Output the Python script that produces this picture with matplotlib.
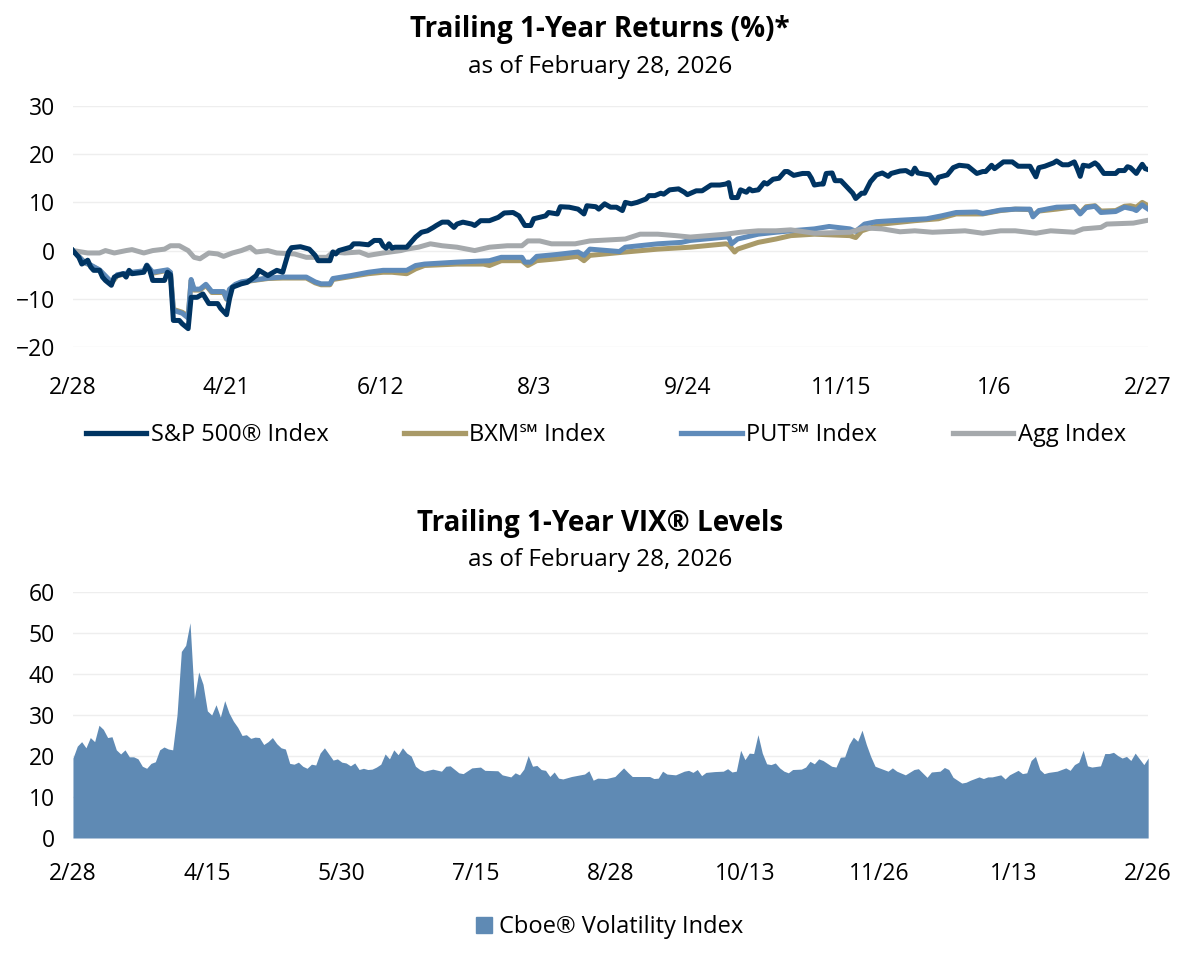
import matplotlib
matplotlib.use("Agg")
import matplotlib.pyplot as plt
import matplotlib.patches as mpatches
from matplotlib.lines import Line2D
import pandas as pd

plt.rcParams['font.family'] = ['Open Sans', 'DejaVu Sans']

# ---- trailing 1-year returns (%), (calendar days since 2/28/2025, value) ----
start = pd.Timestamp('2025-02-28')

spx = [(0, 0), (2, -1.4), (3, -2.8), (5, -2), (6, -3.4), (7, -4.1), (9, -4.1), (10, -5.5),
       (11, -6.2), (13, -7.2), (14, -5.5), (15, -5.2), (17, -4.8), (18, -5.5), (19, -4.1),
       (20, -4.8), (24, -4.5), (25, -3.1), (26, -4.1), (27, -6.2), (31, -6.2), (32, -4.5),
       (33, -5), (34, -14.5), (36, -14.5), (37, -15.2), (39, -16.2), (40, -9.7), (42, -9.7),
       (44, -9), (46, -11), (49, -11), (50, -12), (52, -13.3), (53, -10), (54, -7.6),
       (57, -6.9), (59, -6.6), (62, -5.2), (63, -4.1), (66, -5.2), (67, -4.8), (69, -4.1),
       (71, -4.5), (73, -0.3), (74, 0.6), (77, 0.8), (80, 0.3), (82, -1), (83, -2.1),
       (87, -2.1), (88, -0.3), (89, -0.7), (90, 0), (94, 0.7), (95, 1.4), (97, 1.4),
       (100, 1.2), (102, 2.1), (104, 2.1), (105, 1), (106, 0.5), (107, 1.4), (108, 0.5),
       (109, 0.7), (113, 0.7), (116, 2.8), (118, 3.8), (120, 4.1), (122, 4.8), (123, 5.2),
       (125, 5.9), (127, 5.9), (129, 4.8), (130, 5.5), (132, 5.9), (135, 5.5), (136, 5.2),
       (138, 6.2), (141, 6.2), (144, 6.9), (146, 7.8), (149, 7.9), (151, 7.2), (153, 5.2),
       (155, 5.2), (156, 6.6), (160, 7.2), (161, 7.9), (164, 7.6), (165, 9.1), (168, 9),
       (171, 8.6), (173, 7.6), (174, 9.3), (177, 9.1), (178, 8.6), (180, 9.7), (182, 9),
       (184, 9), (186, 8.3), (187, 10), (189, 9.7), (191, 10), (194, 10.7), (195, 11.4),
       (197, 11.4), (199, 11.9), (200, 11.7), (202, 12.6), (205, 12.8), (207, 12.1),
       (208, 11.6), (211, 12.4), (213, 12.4), (215, 13.2), (216, 13.6), (219, 13.6),
       (221, 13.8), (222, 14.1), (223, 11), (225, 11), (226, 12.6), (228, 12.1), (229, 12.8),
       (230, 12.4), (232, 12.6), (234, 14.1), (235, 13.8), (237, 14.8), (239, 15),
       (241, 16.4), (242, 16.4), (244, 15.6), (247, 16), (249, 16), (250, 15), (251, 13.6),
       (253, 13.8), (254, 13.8), (255, 16), (257, 16.1), (258, 14.5), (260, 14.5),
       (262, 13.2), (264, 11.9), (265, 10.8), (267, 11.9), (268, 11.9), (270, 14.3),
       (272, 15.7), (274, 16.1), (276, 15.4), (277, 16), (280, 16.5), (282, 16.6),
       (284, 15.9), (285, 17.1), (286, 16.1), (290, 15.7), (292, 14), (293, 15.2),
       (296, 15.7), (298, 17.2), (300, 17.7), (303, 17.5), (306, 16), (308, 16.4),
       (309, 16.4), (311, 17.7), (312, 17), (315, 18.4), (318, 18.4), (320, 17.5),
       (324, 17.5), (326, 15.3), (327, 17.2), (329, 17.5), (332, 18.2), (333, 18.6),
       (335, 17.8), (337, 17.8), (339, 18.4), (340, 17), (341, 15.4), (342, 17.7),
       (344, 17.5), (346, 18.2), (347, 17.7), (349, 16), (353, 16), (354, 16.6), (356, 16.6),
       (357, 17.4), (358, 17.2), (360, 16), (361, 17), (362, 17.9), (363, 17), (364, 16.8)]

put = [(0, 0), (4, -2.5), (6, -3), (9, -4), (13, -6.5), (15, -5), (20, -4.5), (24, -4.2),
       (25, -3), (27, -4.5), (32, -4), (33, -4.5), (34, -12.4), (37, -13), (39, -14),
       (40, -6), (41, -8), (43, -8), (45, -7), (47, -8.5), (51, -8.5), (52, -10), (53, -8),
       (55, -7), (57, -6.5), (60, -6.2), (66, -5.7), (71, -5.5), (79, -5.5), (82, -6.5),
       (84, -6.9), (87, -6.9), (88, -5.8), (94, -5.2), (100, -4.5), (105, -4.1), (108, -4.1),
       (113, -4.1), (116, -3.1), (119, -2.8), (130, -2.4), (141, -2.1), (145, -1.4),
       (152, -1.4), (153, -2.4), (155, -2.4), (157, -1.2), (164, -0.8), (171, -0.3),
       (173, -1), (175, 0.3), (185, -0.2), (187, 0.7), (198, 1.4), (206, 1.7), (209, 2.1),
       (221, 2.8), (222, 2.8), (223, 1.4), (225, 2.4), (232, 3.4), (238, 3.8), (243, 4.1),
       (251, 4.5), (256, 5), (263, 4.5), (265, 4), (268, 5.5), (272, 6), (280, 6.3),
       (289, 6.6), (294, 7.2), (299, 7.9), (306, 8), (308, 7.7), (314, 8.4), (319, 8.6),
       (324, 8.6), (325, 7), (327, 8.3), (333, 9), (339, 9.1), (341, 7.6), (343, 8.9),
       (346, 9.2), (348, 7.9), (353, 8.1), (356, 9), (359, 8.6), (360, 8.3), (362, 9.5),
       (363, 9), (364, 8.6)]

bxm = [(0, 0), (4, -2.5), (6, -3.1), (9, -4.1), (13, -6.8), (15, -5.2), (20, -4.6),
       (24, -4.3), (25, -3.1), (27, -4.7), (32, -4.1), (33, -4.6), (34, -12.2), (37, -12.8),
       (39, -13.6), (40, -6.3), (41, -8.2), (43, -8.2), (45, -7.2), (47, -8.7), (51, -8.7),
       (52, -10.1), (53, -8.2), (55, -7.1), (57, -6.6), (60, -6.3), (66, -5.8), (71, -5.7),
       (79, -5.7), (82, -6.7), (84, -7.1), (87, -7.1), (88, -6), (94, -5.4), (100, -4.8),
       (105, -4.5), (108, -4.5), (113, -4.8), (116, -3.8), (119, -3.1), (130, -2.8),
       (139, -2.8), (141, -3.1), (145, -2.1), (152, -2.1), (154, -3.1), (157, -2.1),
       (164, -1.7), (171, -1.2), (173, -2.1), (175, -1), (187, -0.3), (198, 0.3), (209, 0.7),
       (221, 1.4), (222, 1.2), (224, -0.3), (225, 0.3), (232, 1.7), (238, 2.4), (243, 3.1),
       (251, 3.4), (263, 3.1), (265, 2.7), (267, 4.1), (274, 5.5), (285, 6.2), (293, 6.6),
       (299, 7.6), (308, 7.6), (314, 8.3), (319, 8.6), (324, 8.5), (325, 7.2), (327, 8.2),
       (333, 8.6), (339, 9.1), (341, 7.8), (343, 9.1), (346, 9.3), (348, 8.2), (353, 8.3),
       (356, 9.2), (358, 9.3), (360, 9), (362, 10), (364, 9.3)]

agg = [(0, 0), (5, -0.5), (9, -0.5), (11, 0), (14, -0.5), (18, 0), (20, 0.2), (24, -0.5),
       (27, 0), (31, 0.3), (33, 1), (36, 1), (39, 0), (41, -1.4), (43, -1.7), (46, -0.5),
       (49, -0.7), (51, -1.2), (54, -0.5), (57, 0), (60, 0.7), (62, -0.3), (66, 0),
       (69, -0.5), (75, -0.7), (79, -1.4), (86, -1.4), (88, -0.3), (92, -0.5), (97, -0.3),
       (100, -1), (105, -0.5), (111, 0), (113, 0.3), (117, 0.7), (121, 1.4), (125, 1),
       (130, 0.7), (136, 0), (141, 0.7), (147, 1), (152, 1), (154, 2), (158, 2), (162, 1.4),
       (170, 1.4), (175, 2), (187, 2.4), (192, 3.4), (198, 3.4), (204, 3.1), (209, 2.8),
       (215, 3.1), (221, 3.4), (226, 3.8), (232, 4.1), (238, 4.1), (243, 4.3), (251, 3.6),
       (263, 3.8), (268, 4.7), (274, 4.5), (280, 3.9), (285, 4.1), (291, 3.8), (302, 4.1),
       (308, 3.6), (314, 4.1), (319, 4.1), (326, 3.6), (331, 4.1), (339, 3.8), (342, 4.5),
       (348, 4.8), (350, 5.5), (359, 5.7), (364, 6.3)]

series_names = ['S&P 500® Index', 'BXM℠ Index', 'PUT℠ Index', 'Agg Index']
top_ticks_days = [0, 52, 104, 156, 208, 260, 312, 364]

# ---- VIX levels (trading-day index since 2/28/2025, level) ----
vix = [(0, 19.5), (1, 22.4), (2, 23.5), (3, 22), (4, 24.5), (5, 23.5), (6, 27.5), (7, 26.5),
       (8, 24.5), (9, 24.7), (10, 21.5), (11, 20.5), (12, 21.5), (13, 19.8), (14, 19.8),
       (15, 19.3), (16, 17.5), (17, 17), (18, 18.2), (19, 18.6), (20, 21.5), (21, 22.2),
       (22, 21.7), (23, 21.5), (24, 30), (25, 45.5), (26, 47), (27, 52.5), (28, 34),
       (29, 40.5), (30, 37.5), (31, 31), (32, 30), (33, 32.5), (34, 29.5), (35, 33.5),
       (36, 30.5), (37, 28.5), (38, 27), (39, 25), (40, 25.2), (41, 24.3), (42, 24.6),
       (43, 24.5), (44, 22.8), (45, 23.5), (46, 24.5), (47, 23), (48, 22), (49, 21.7),
       (50, 18.2), (51, 18), (52, 18.5), (53, 17.5), (54, 17), (55, 18), (56, 17.8),
       (57, 20.7), (58, 22), (59, 20.5), (60, 19), (61, 19.3), (62, 18.5), (63, 18.3),
       (64, 17.6), (65, 18.3), (66, 16.7), (67, 17), (68, 16.7), (69, 16.8), (70, 17.3),
       (71, 18), (72, 20.5), (73, 19.3), (74, 21.5), (75, 20.3), (76, 22), (77, 20.7),
       (78, 20), (79, 17.5), (80, 16.7), (81, 16.3), (83, 16.8), (85, 16.3), (86, 17.5),
       (87, 17.6), (89, 15.9), (90, 15.7), (92, 17.1), (94, 17.3), (95, 16.5), (98, 16.4),
       (99, 15.4), (101, 14.9), (102, 15.9), (103, 15.4), (104, 16.8), (105, 20.1),
       (106, 17.5), (107, 17.7), (108, 16.7), (109, 16.5), (110, 15), (111, 16.1),
       (112, 14.6), (113, 14.4), (115, 15), (117, 15.4), (118, 15.6), (119, 16.4),
       (120, 14.1), (121, 14.6), (123, 14.5), (125, 15), (127, 17.1), (128, 16), (129, 15),
       (131, 15), (133, 15), (134, 14.5), (135, 14.6), (136, 16.3), (137, 15.6), (139, 15.4),
       (141, 16.3), (142, 16.5), (143, 16), (144, 16.7), (145, 15.2), (146, 16), (148, 16.2),
       (150, 16.3), (151, 16.9), (152, 16.1), (153, 16.3), (154, 21.4), (155, 19.1),
       (156, 20.7), (157, 20.6), (158, 25.2), (159, 20.7), (160, 18.1), (161, 17.9),
       (162, 18.3), (163, 17.1), (164, 16.3), (165, 15.9), (166, 16.7), (168, 16.8),
       (169, 17.3), (170, 18.7), (171, 18.1), (172, 19.3), (173, 18.9), (175, 17.5),
       (176, 17.3), (177, 19.7), (178, 19.8), (179, 22.8), (180, 24.6), (181, 23.6),
       (182, 26.3), (183, 22.8), (184, 19.9), (185, 17.5), (186, 17.1), (188, 16.3),
       (189, 17.1), (190, 16.3), (192, 15.4), (194, 16.7), (195, 16.9), (197, 14.8),
       (198, 16.1), (200, 16.3), (201, 17.2), (202, 16.7), (203, 14.8), (204, 14.1),
       (205, 13.4), (206, 13.6), (207, 14.1), (209, 14.9), (210, 14.5), (211, 14.9),
       (212, 14.9), (214, 15.4), (215, 14.4), (216, 15.4), (218, 16.5), (219, 15.7),
       (220, 15.9), (221, 18.9), (222, 19.9), (223, 16.7), (224, 15.7), (225, 16),
       (227, 16.3), (229, 17.1), (230, 16.5), (231, 17.9), (232, 18.5), (233, 21.4),
       (234, 17.6), (235, 17.3), (237, 17.6), (238, 20.6), (239, 20.6), (240, 20.9),
       (241, 20.1), (242, 19.5), (243, 19.9), (244, 18.9), (245, 20.7), (246, 19.3),
       (247, 17.9), (248, 19.5)]

vix_ticks = [0, 31, 62, 93, 124, 155, 186, 217, 248]
vix_tick_labels = ['2/28', '4/15', '5/30', '7/15', '8/28', '10/13', '11/26', '1/13', '2/26']

colors = {'spx': '#003462', 'bxm': '#a99a68', 'put': '#5f8bba', 'agg': '#a5a9ac'}
vix_color = '#5f8ab4'
grid_color = '#eeeeee'

fig = plt.figure(figsize=(12, 9.67), dpi=100)

# ---------------- top chart ----------------
ax1 = fig.add_axes([0.0608, 0.6412, 0.896, 0.2492])
for key, data, z in [('bxm', bxm, 2), ('put', put, 3), ('agg', agg, 4), ('spx', spx, 5)]:
    d, v = zip(*data)
    ax1.plot(d, v, color=colors[key], lw=3.6, zorder=z, solid_joinstyle='round')

ax1.set_xlim(0, 364)
ax1.set_ylim(-20, 30)
ax1.set_yticks([-20, -10, 0, 10, 20, 30])
ax1.set_xticks(top_ticks_days)
ax1.set_xticklabels([(start + pd.Timedelta(days=d)).strftime('%-m/%-d') for d in top_ticks_days])
ax1.grid(axis='y', color=grid_color, lw=1)
ax1.set_axisbelow(True)
for s in ax1.spines.values():
    s.set_visible(False)
ax1.tick_params(length=0, labelsize=16.5, colors='black')
ax1.tick_params(axis='y', pad=13)
ax1.tick_params(axis='x', pad=21)

fig.text(0.5, 0.969, 'Trailing 1-Year Returns (%)*', ha='center', va='center',
         fontsize=20, fontweight='bold')
fig.text(0.5, 0.931, 'as of February 28, 2026', ha='center', va='center', fontsize=17.5)

handles = [Line2D([], [], color=colors[k], lw=3.8) for k in ['spx', 'bxm', 'put', 'agg']]
fig.legend(handles, series_names, loc='center', bbox_to_anchor=(0.505, 0.550), ncol=4,
           frameon=False, fontsize=17, handlelength=2.55, handletextpad=0.2,
           columnspacing=3.2)

# ---------------- bottom chart ----------------
ax2 = fig.add_axes([0.0608, 0.1334, 0.896, 0.2544])
vi, vv = zip(*vix)
ax2.fill_between(vi, vv, 0, color=vix_color, lw=0, zorder=3)
ax2.set_xlim(0, 248)
ax2.set_ylim(0, 60)
ax2.set_yticks(range(0, 61, 10))
ax2.set_xticks(vix_ticks)
ax2.set_xticklabels(vix_tick_labels)
ax2.grid(axis='y', color=grid_color, lw=1)
ax2.set_axisbelow(True)
for s in ax2.spines.values():
    s.set_visible(False)
ax2.tick_params(length=0, labelsize=16.5, colors='black')
ax2.tick_params(axis='y', pad=13)
ax2.tick_params(axis='x', pad=17)

fig.text(0.5, 0.459, 'Trailing 1-Year VIX® Levels', ha='center', va='center',
         fontsize=20, fontweight='bold')
fig.text(0.5, 0.421, 'as of February 28, 2026', ha='center', va='center', fontsize=17.5)

fig.legend([mpatches.Patch(color=vix_color)], ['Cboe® Volatility Index'], loc='center',
           bbox_to_anchor=(0.508, 0.041), frameon=False, fontsize=17,
           handlelength=0.7, handleheight=0.7, handletextpad=0.3)

fig.savefig('out.png', dpi=100)
